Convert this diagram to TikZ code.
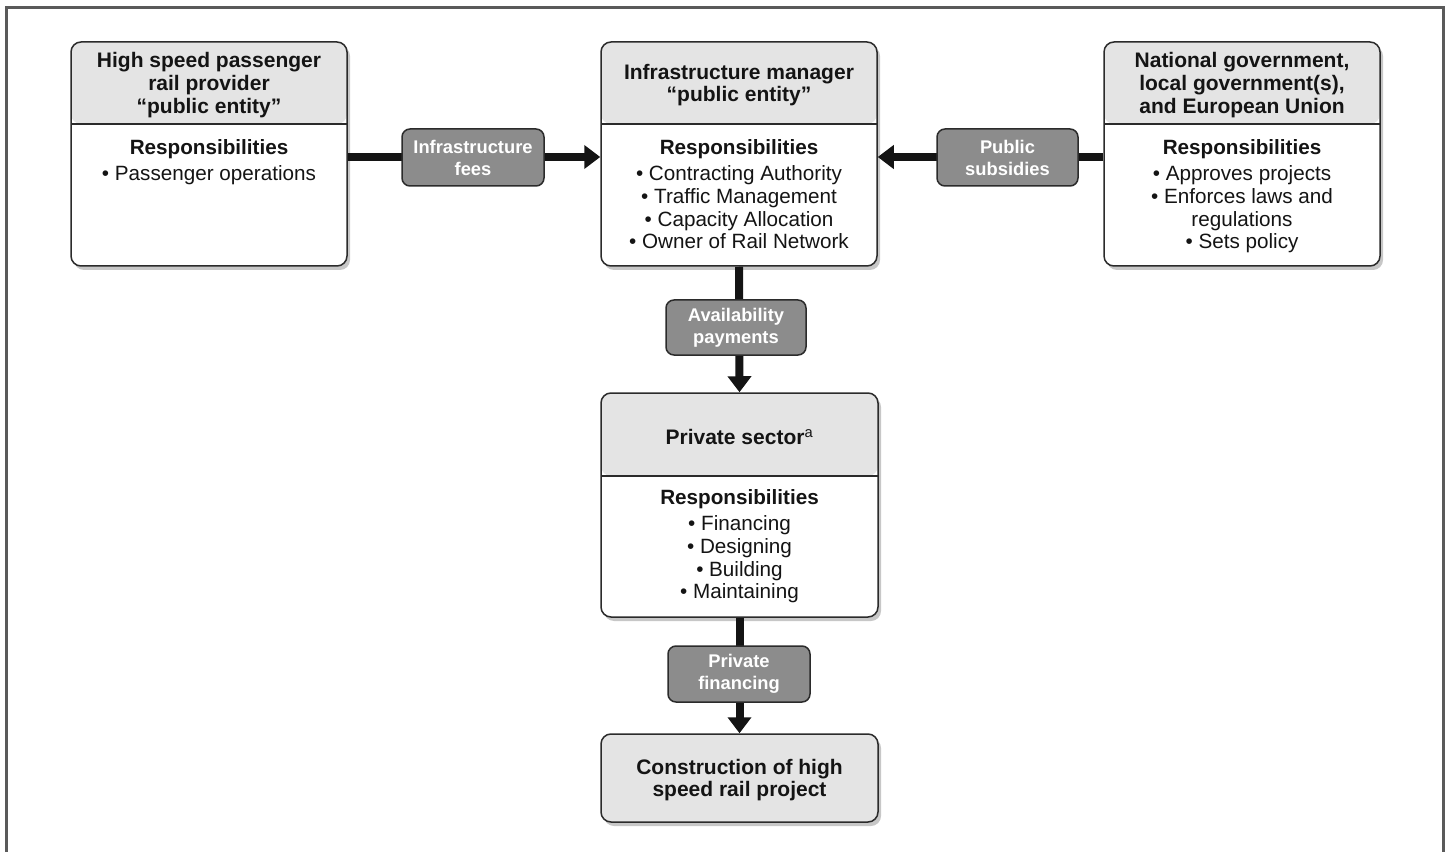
\documentclass[tikz,border=0pt]{standalone}
\usepackage{fontspec}
\setmainfont{Liberation Sans}
\usetikzlibrary{arrows.meta,shadows}
\newdimen\pxu \pxu=0.75pt
\definecolor{hdrgray}{HTML}{E4E4E4}
\definecolor{lblgray}{HTML}{8C8C8C}
\definecolor{edgegray}{HTML}{2B2B2B}
\definecolor{txt}{HTML}{141414}
\definecolor{framegray}{HTML}{5A5A5A}
\tikzset{
  card/.style={draw=edgegray, line width=1.5\pxu, fill=white, rounded corners=10\pxu,
    minimum width=276\pxu, minimum height=224\pxu, inner sep=0pt,
    drop shadow={shadow xshift=3\pxu, shadow yshift=-4\pxu, opacity=0.22, fill=black}},
  hdr/.style={path picture={
    \fill[hdrgray] (path picture bounding box.north west) rectangle ([yshift=-#1]path picture bounding box.north east);
    \draw[edgegray, line width=1.5\pxu] ([yshift=-#1]path picture bounding box.north west) -- ([yshift=-#1]path picture bounding box.north east);}},
  hdrtxt/.style={text=txt, font=\bfseries\fontsize{15.75}{17}\selectfont, align=center, inner sep=0pt},
  bodytxt/.style={text=txt, font=\fontsize{15.5}{17}\selectfont, align=center, inner sep=0pt, anchor=north},
  lbl/.style={draw=edgegray, line width=1.5\pxu, fill=lblgray, rounded corners=8\pxu, text=white,
    font=\bfseries\fontsize{13.75}{16.5}\selectfont, align=center, inner sep=0pt,
    minimum width=142\pxu, minimum height=57\pxu},
  conn/.style={line width=6pt, draw=black!92, -{Triangle[length=12pt,width=17.25pt]}},
}
\begin{document}
\begin{tikzpicture}[x=0.75pt,y=-0.75pt]
\useasboundingbox (0,0) rectangle (1449,852);
\draw[framegray, line width=1.65pt] (6.5,870) -- (6.5,7.5) -- (1443.5,7.5) -- (1443.5,870);

\node[card, hdr=61.5pt] (n1) at (209,154) {};
\node[card, hdr=61.5pt] (n2) at (739,154) {};
\node[card, hdr=61.5pt] (n3) at (1242,154) {};
\node[card, hdr=62.25pt, minimum width=277\pxu] (n4) at (739.5,505) {};
\node[card, fill=hdrgray, minimum width=277\pxu, minimum height=88\pxu] (n5) at (739.5,778) {};

\draw[conn] ([yshift=-2.25pt]n1.east) -- ([yshift=-2.25pt]n2.west);
\draw[conn] ([yshift=-2.25pt]n3.west) -- ([yshift=-2.25pt]n2.east);
\draw[conn] (n2.south) -- (n4.north);
\draw[conn] (n4.south) -- (n5.north);

\node[lbl] (l1) at (473,157.5) {Infrastructure\\fees};
\node[lbl, minimum width=141\pxu] (l2) at (1007.5,157.5) {Public\\subsidies};
\node[lbl, minimum width=140\pxu, minimum height=55\pxu] (l3) at (736,327.5) {Availability\\payments};
\node[lbl, minimum height=56\pxu] (l4) at (739,674) {Private\\financing};

\node[hdrtxt] (n1h) at (209,85) {High speed passenger\\rail provider\\“public entity”};
\node[bodytxt] (n1b) at (209,139) {\textbf{Responsibilities}\\[3pt]\textbullet\ Passenger operations};

\node[hdrtxt] (n2h) at (739,85) {Infrastructure manager\\“public entity”};
\node[bodytxt] (n2b) at (739,139) {\textbf{Responsibilities}\\[3pt]\textbullet\ Contracting Authority\\\textbullet\ Traffic Management\\\textbullet\ Capacity Allocation\\\textbullet\ Owner of Rail Network};

\node[hdrtxt] (n3h) at (1242,85) {National government,\\local government(s),\\and European Union};
\node[bodytxt] (n3b) at (1242,139) {\textbf{Responsibilities}\\[3pt]\textbullet\ Approves projects\\\textbullet\ Enforces laws and\\regulations\\\textbullet\ Sets policy};

\node[hdrtxt] (n4h) at (739.5,437) {Private sector\textsuperscript{\mdseries a}};
\node[bodytxt] (n4b) at (739.5,489) {\textbf{Responsibilities}\\[3pt]\textbullet\ Financing\\\textbullet\ Designing\\\textbullet\ Building\\\textbullet\ Maintaining};

\node[hdrtxt] (n5t) at (739.5,780) {Construction of high\\speed rail project};
\end{tikzpicture}
\end{document}
